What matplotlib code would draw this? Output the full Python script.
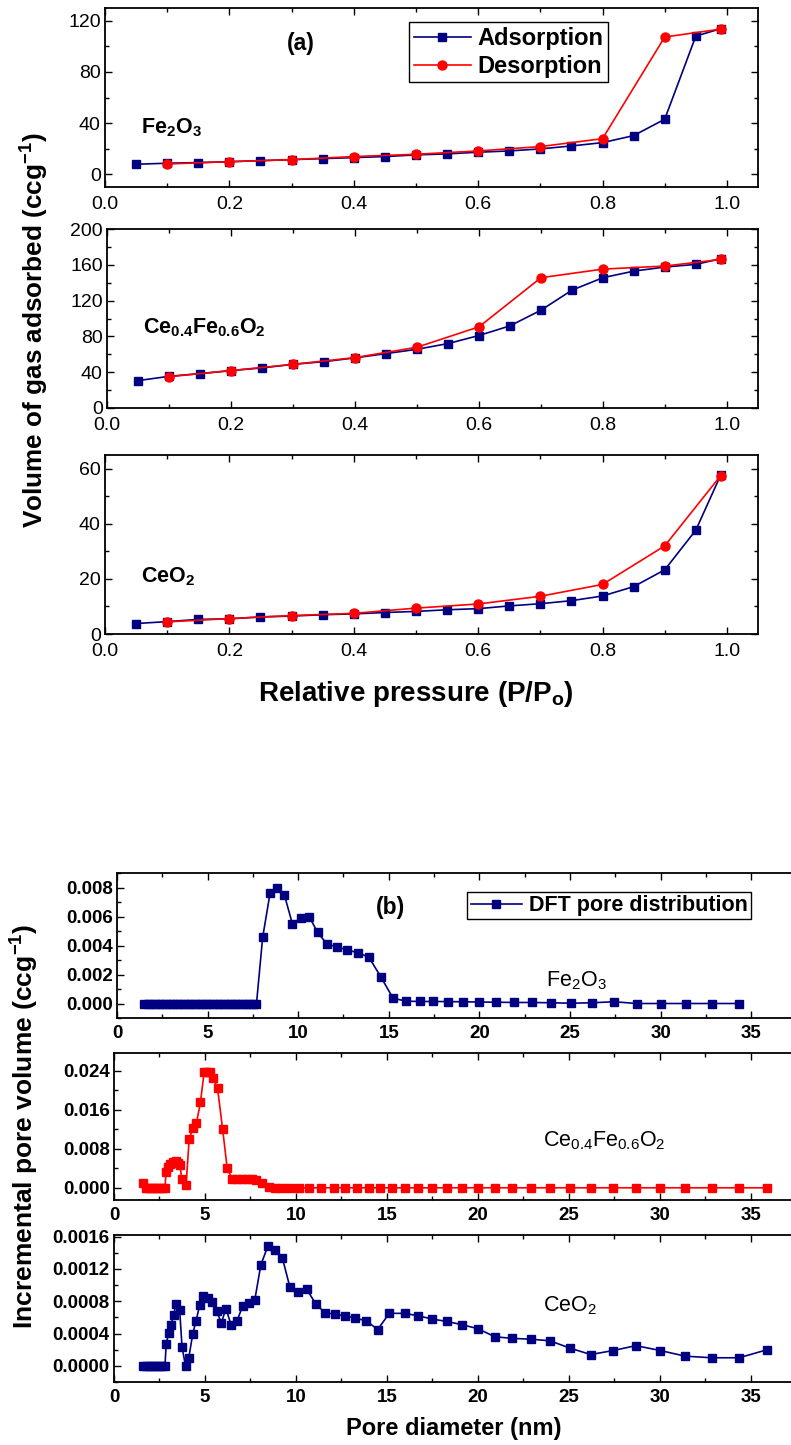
import matplotlib
matplotlib.use("Agg")
import matplotlib.pyplot as plt
from matplotlib.ticker import MultipleLocator

plt.rcParams['font.family'] = ['Liberation Sans', 'DejaVu Sans']
plt.rcParams['mathtext.default'] = 'regular'

BLUE = '#000080'
RED = '#ff0000'

# ---- (a) N2 isotherms ----
p_ads = [0.05, 0.10, 0.15, 0.20, 0.25, 0.30, 0.35, 0.40, 0.45, 0.50,
         0.55, 0.60, 0.65, 0.70, 0.75, 0.80, 0.85, 0.90, 0.95, 0.99]
p_des = [0.10, 0.20, 0.30, 0.40, 0.50, 0.60, 0.70, 0.80, 0.90, 0.99]

fe2o3_ads = [7.8, 8.6, 9.1, 9.8, 10.6, 11.4, 12.2, 13.0, 13.8, 15.1,
             15.9, 17.2, 18.2, 19.8, 22.1, 24.7, 30.2, 43.0, 108.0, 113.8]
fe2o3_des = [8.0, 9.8, 11.4, 13.8, 15.6, 18.2, 21.6, 27.8, 107.3, 113.5]

cefe_ads = [30.6, 35.4, 38.4, 41.8, 44.8, 48.8, 51.8, 56.0, 60.8, 65.6,
            72.0, 81.0, 91.8, 109.3, 131.7, 145.6, 153.0, 157.5, 160.5, 166.8]
cefe_des = [35.0, 41.8, 48.8, 56.3, 67.9, 90.7, 145.6, 155.2, 158.6, 166.0]

ceo2_ads = [3.8, 4.5, 5.3, 5.5, 6.2, 6.5, 7.0, 7.3, 7.8, 8.2,
            8.8, 9.2, 10.2, 11.0, 12.1, 13.8, 17.2, 23.3, 37.7, 57.7]
ceo2_des = [4.4, 5.6, 6.7, 7.5, 9.4, 10.9, 13.7, 18.0, 32.0, 57.5]

# ---- (b) DFT pore size distributions ----
fe2o3_d = [1.5, 1.7, 1.9, 2.1, 2.3, 2.5, 2.7, 2.9, 3.1, 3.3, 3.5, 3.7,
           3.9, 4.1, 4.3, 4.5, 4.7, 4.9, 5.1, 5.3, 5.5, 5.7, 5.9, 6.1,
           6.3, 6.5, 6.7, 6.9, 7.1, 7.3, 7.5, 7.7,
           8.04, 8.45, 8.85, 9.24, 9.68, 10.15, 10.61, 11.07, 11.59, 12.14,
           12.70, 13.29, 13.90, 14.58, 15.24, 15.97, 16.71, 17.47, 18.28,
           19.12, 20.0, 20.93, 21.9, 22.91, 23.96, 25.05, 26.2, 27.44,
           28.68, 30.02, 31.38, 32.85, 34.35]
fe2o3_v = [0.0] * 32 + [
    0.00456, 0.00762, 0.0080, 0.00748, 0.0055, 0.0059, 0.0060, 0.0049,
    0.0041, 0.0039, 0.0037, 0.0035, 0.0032, 0.0018, 0.00036,
    0.00016, 0.00014, 0.00014, 0.00013, 0.00012, 0.0001, 0.00009,
    0.00007, 0.00007, 0.00005, 0.00002, 0.00005, 0.00012, 0.0,
    0.0, 0.0, 0.0, 0.0]

cefe_d = [1.61, 1.74, 1.90, 2.05, 2.20, 2.35, 2.50, 2.65, 2.80, 2.86,
          2.98, 3.10, 3.24, 3.39, 3.52, 3.62, 3.73, 3.96, 4.13, 4.33,
          4.53, 4.75, 4.96, 5.12, 5.25, 5.45, 5.69, 5.97, 6.22, 6.50,
          6.75, 7.03, 7.30, 7.58, 7.82, 8.13, 8.50, 8.87, 9.23, 9.69,
          10.15, 10.70, 11.35, 12.08, 12.70, 13.36, 14.0, 14.64, 15.28,
          15.97, 16.71, 17.47, 18.28, 19.12, 20.0, 20.93, 21.9, 22.91,
          23.96, 25.05, 26.2, 27.44, 28.68, 30.02, 31.38, 32.85, 34.35, 35.9]
cefe_v = [0.00103, 0.0, 0.0, 0.0, 0.0, 0.0, 0.0, 0.0, 0.0, 0.0032,
          0.0043, 0.0049, 0.0052, 0.0055, 0.0051, 0.0047, 0.0017, 0.0005,
          0.0099, 0.0122, 0.0132, 0.0175, 0.0238, 0.0238, 0.0238, 0.0225,
          0.0204, 0.0120, 0.0040, 0.0017, 0.0017, 0.0018, 0.0018, 0.0017,
          0.0015, 0.0009, 0.0002] + [0.0] * 31

ceo2_d = [1.60, 1.75, 1.90, 2.05, 2.20, 2.35, 2.50, 2.65, 2.80, 2.87,
          3.01, 3.14, 3.27, 3.42, 3.61, 3.74, 3.93, 4.11, 4.33, 4.51,
          4.71, 4.91, 5.15, 5.39, 5.64, 5.90, 6.15, 6.43, 6.75, 7.07,
          7.40, 7.74, 8.07, 8.45, 8.84, 9.26, 9.66, 10.10, 10.59, 11.08,
          11.57, 12.12, 12.67, 13.25, 13.85, 14.49, 15.13,
          15.97, 16.71, 17.47, 18.28, 19.12, 20.0, 20.93, 21.9, 22.91,
          23.96, 25.05, 26.2, 27.44, 28.68, 30.02, 31.38, 32.85, 34.35, 35.9]
ceo2_v = [0.0, 0.0, 0.0, 0.0, 0.0, 0.0, 0.0, 0.0, 0.0, 0.00027,
          0.00041, 0.00050, 0.00063, 0.00077, 0.00069, 0.00023, 0.0, 0.0001,
          0.00040, 0.00056, 0.00075, 0.00086, 0.00084, 0.00079, 0.00068,
          0.00053, 0.00071, 0.00051, 0.00055, 0.00074, 0.00078, 0.00082,
          0.00125, 0.00148, 0.00144, 0.00133, 0.00098, 0.00091, 0.00095,
          0.00077, 0.00066, 0.00064, 0.00062, 0.00059, 0.00056, 0.00045,
          0.00065, 0.00065, 0.00062, 0.00058, 0.00055, 0.00051, 0.00046,
          0.00036, 0.00034, 0.00033, 0.00031, 0.00022, 0.00014, 0.00019,
          0.00025, 0.00019, 0.00012, 0.00010, 0.00010, 0.00020]

W, H = 791, 1445
fig = plt.figure(figsize=(W / 100, H / 100), dpi=100)


def box(left, top, right, bottom):
    return [left / W, 1 - bottom / H, (right - left) / W, (bottom - top) / H]


def style(ax, xmaj, xmin, ymaj, ymin, size, xpad=5):
    ax.xaxis.set_major_locator(MultipleLocator(xmaj))
    ax.xaxis.set_minor_locator(MultipleLocator(xmin))
    ax.yaxis.set_major_locator(MultipleLocator(ymaj))
    ax.yaxis.set_minor_locator(MultipleLocator(ymin))
    ax.tick_params(which='both', direction='in', top=True, right=True,
                   width=1.0, labelsize=size)
    ax.tick_params(which='major', length=5)
    ax.tick_params(which='minor', length=3)
    ax.tick_params(axis='x', pad=xpad)
    ax.tick_params(axis='y', pad=3)
    for s in ax.spines.values():
        s.set_linewidth(1.3)


iso_boxes = [box(105, 8, 758, 187), box(107, 229, 758, 408), box(105, 455, 758, 634)]
iso_ads = [fe2o3_ads, cefe_ads, ceo2_ads]
iso_des = [fe2o3_des, cefe_des, ceo2_des]
iso_ylim = [(-10, 130), (0, 200), (0, 65)]
iso_ytick = [(40, 20), (40, 20), (20, 10)]
iso_names = ['Fe$_2$O$_3$', 'Ce$_{0.4}$Fe$_{0.6}$O$_2$', 'CeO$_2$']
iso_name_y = [0.33, 0.45, 0.32]

for i in range(3):
    ax = fig.add_axes(iso_boxes[i])
    ax.plot(p_ads, iso_ads[i], '-s', color=BLUE, lw=1.2, ms=6,
            label='Adsorption')
    ax.plot(p_des, iso_des[i], '-o', color=RED, lw=1.2, ms=6.5,
            label='Desorption')
    ax.set_xlim(0, 1.05)
    ax.set_ylim(*iso_ylim[i])
    style(ax, 0.2, 0.1, iso_ytick[i][0], iso_ytick[i][1], 14, xpad=6.5)
    ax.set_xticks([0, 0.2, 0.4, 0.6, 0.8, 1.0])
    ax.set_xticklabels(['0.0', '0.2', '0.4', '0.6', '0.8', '1.0'])
    ax.text(0.055, iso_name_y[i], iso_names[i], transform=ax.transAxes,
            fontsize=15.5, fontweight='bold', va='center')
    if i == 0:
        ax.text(0.30, 0.80, '(a)', transform=ax.transAxes, fontsize=16.5,
                fontweight='bold', ha='center', va='center')
        ax.legend(loc='upper left', bbox_to_anchor=(0.466, 0.92),
                  prop={'weight': 'bold', 'size': 17},
                  frameon=True, fancybox=False, edgecolor='black',
                  framealpha=1, handlelength=2.4, handletextpad=0.3,
                  borderpad=0.2, labelspacing=0.2, borderaxespad=0)

fig.text(35 / W, 1 - 330 / H, 'Volume of gas adsorbed (ccg$^{-1}$)',
         rotation=90, ha='center', va='center', fontsize=18.8,
         fontweight='bold')
fig.text(416 / W, 1 - 694 / H, 'Relative pressure (P/P$_o$)',
         ha='center', va='center', fontsize=20, fontweight='bold')

# pore size distributions
psd_boxes = [box(117, 873, 800, 1018), box(114, 1053, 800, 1200),
             box(114, 1235, 800, 1382)]
psd_d = [fe2o3_d, cefe_d, ceo2_d]
psd_v = [fe2o3_v, cefe_v, ceo2_v]
psd_col = [BLUE, RED, BLUE]
psd_ylim = [(-0.001, 0.009), (-0.0025, 0.0276), (-0.0002, 0.00162)]
psd_yticks = [[0.0, 0.002, 0.004, 0.006, 0.008],
              [0.0, 0.008, 0.016, 0.024],
              [0.0, 0.0004, 0.0008, 0.0012, 0.0016]]
psd_yminor = [0.001, 0.004, 0.0002]
psd_fmt = ['{:.3f}', '{:.3f}', '{:.4f}']
psd_name_xy = [(0.628, 0.26), (0.625, 0.40), (0.626, 0.52)]

for i in range(3):
    ax = fig.add_axes(psd_boxes[i])
    ax.plot(psd_d[i], psd_v[i], '-s', color=psd_col[i], lw=1.2, ms=5.2,
            label='DFT pore distribution')
    ax.set_xlim(0, 37.7)
    ax.set_ylim(*psd_ylim[i])
    style(ax, 5, 2.5, psd_yticks[i][1], psd_yminor[i], 13.5)
    ax.set_yticks(psd_yticks[i])
    ax.set_yticklabels([psd_fmt[i].format(t) for t in psd_yticks[i]],
                       fontweight='bold')
    ax.set_xticks([0, 5, 10, 15, 20, 25, 30, 35])
    ax.set_xticklabels(['0', '5', '10', '15', '20', '25', '30', '35'],
                       fontweight='bold')
    ax.text(*psd_name_xy[i], iso_names[i], transform=ax.transAxes,
            fontsize=15.5, va='center')
    if i == 0:
        ax.text(0.40, 0.76, '(b)', transform=ax.transAxes, fontsize=16.5,
                fontweight='bold', ha='center', va='center')
        ax.legend(loc='upper left', bbox_to_anchor=(0.513, 0.87),
                  prop={'weight': 'bold', 'size': 15.5},
                  frameon=True, fancybox=False, edgecolor='black',
                  framealpha=1, handlelength=2.4, handletextpad=0.3,
                  borderpad=0.15, borderaxespad=0)

fig.text(25 / W, 1 - 1126 / H, 'Incremental pore volume (ccg$^{-1}$)',
         rotation=90, ha='center', va='center', fontsize=19,
         fontweight='bold')
fig.text(454 / W, 1 - 1428 / H, 'Pore diameter (nm)',
         ha='center', va='center', fontsize=17, fontweight='bold')

fig.savefig('out.png', dpi=100)
